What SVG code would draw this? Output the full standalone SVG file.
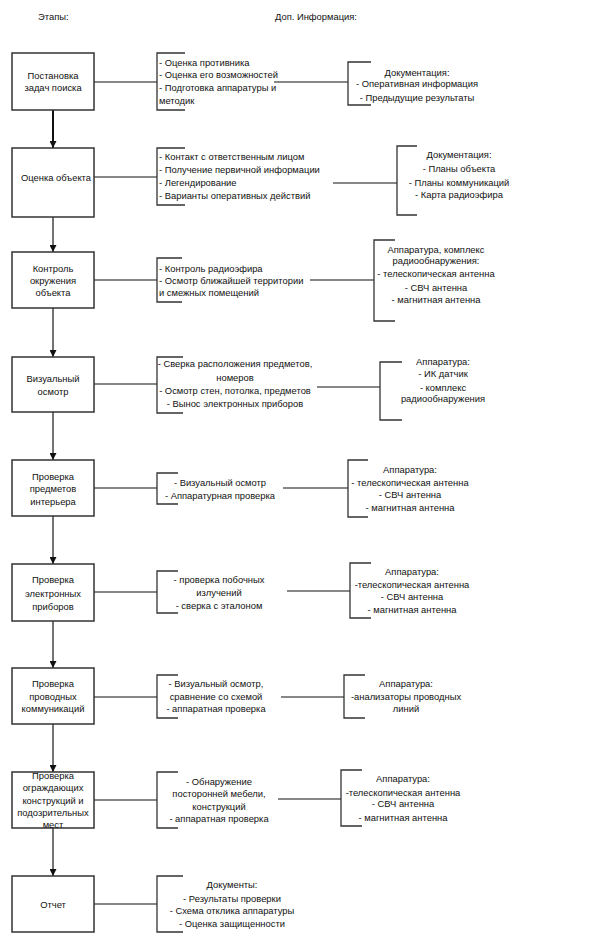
<svg xmlns="http://www.w3.org/2000/svg" width="599" height="950" viewBox="0 0 599 950">
<defs>
<style>
text{font-family:"Liberation Sans",Arial,sans-serif;font-size:9.4px;fill:#111}
.c{text-anchor:middle}
.box{fill:#fff;stroke:#333;stroke-width:1.5}
.br{fill:none;stroke:#333;stroke-width:1.3}
.ln{fill:none;stroke:#111;stroke-width:1.2}
.ar{fill:none;stroke:#444;stroke-width:1.5}
</style>
<marker id="ah" viewBox="0 0 10 10" refX="10" refY="5" markerWidth="7" markerHeight="7" markerUnits="userSpaceOnUse" orient="auto"><path d="M0,0 L10,5 L0,10 z" fill="#111"/></marker>
</defs>
<rect width="599" height="950" fill="#fff"/>
<text x="38" y="19.5">Этапы:</text>
<text x="275" y="19.5">Доп. Информация:</text>

<g id="connectors">
<line class="ar" x1="53" y1="110" x2="53" y2="148" marker-end="url(#ah)" style="stroke:#111;stroke-width:2"/>
<line class="ar" x1="53" y1="217" x2="53" y2="252" marker-end="url(#ah)"/>
<line class="ar" x1="53" y1="308" x2="53" y2="357" marker-end="url(#ah)"/>
<line class="ar" x1="53" y1="412" x2="53" y2="460" marker-end="url(#ah)"/>
<line class="ar" x1="53" y1="516" x2="53" y2="564" marker-end="url(#ah)"/>
<line class="ar" x1="53" y1="621" x2="53" y2="668" marker-end="url(#ah)"/>
<line class="ar" x1="53" y1="724" x2="53" y2="772" marker-end="url(#ah)"/>
<line class="ar" x1="53" y1="828" x2="53" y2="876" marker-end="url(#ah)"/>
<line class="ln" x1="94" y1="82" x2="157" y2="82"/>
<line class="ln" x1="274" y1="82" x2="348" y2="82"/>
<line class="ln" x1="94" y1="177" x2="157" y2="177"/>
<line class="ln" x1="333" y1="183" x2="397" y2="183"/>
<line class="ln" x1="94" y1="280" x2="157" y2="280"/>
<line class="ln" x1="310" y1="280" x2="374" y2="280"/>
<line class="ln" x1="94" y1="384" x2="157" y2="384"/>
<line class="ln" x1="317" y1="387" x2="380" y2="387"/>
<line class="ln" x1="94" y1="488" x2="157" y2="488"/>
<line class="ln" x1="283" y1="488" x2="348" y2="488"/>
<line class="ln" x1="94" y1="592" x2="157" y2="592"/>
<line class="ln" x1="287" y1="591" x2="350" y2="591"/>
<line class="ln" x1="94" y1="697" x2="157" y2="697"/>
<line class="ln" x1="281" y1="697" x2="344" y2="697"/>
<line class="ln" x1="94" y1="800" x2="157" y2="800"/>
<line class="ln" x1="278" y1="799" x2="341" y2="799"/>
<line class="ln" x1="94" y1="904" x2="157" y2="904"/>
</g>

<g id="stage1"><rect class="box" x="12" y="53" width="82" height="57"/>
<text class="c" x="53" y="78.5">Постановка</text><text class="c" x="53" y="90.5">задач поиска</text></g>
<g id="stage2"><rect class="box" x="12" y="148" width="82" height="69"/>
<text class="c" x="56" y="180.5">Оценка объекта</text></g>
<g id="stage3"><rect class="box" x="12" y="252" width="82" height="56"/>
<text class="c" x="53" y="271.5">Контроль</text><text class="c" x="53" y="283.5">окружения</text><text class="c" x="53" y="295.5">объекта</text></g>
<g id="stage4"><rect class="box" x="12" y="357" width="82" height="55"/>
<text class="c" x="53" y="381.5">Визуальный</text><text class="c" x="53" y="394.5">осмотр</text></g>
<g id="stage5"><rect class="box" x="12" y="460" width="82" height="56"/>
<text class="c" x="53" y="479.5">Проверка</text><text class="c" x="53" y="491.5">предметов</text><text class="c" x="53" y="504.5">интерьера</text></g>
<g id="stage6"><rect class="box" x="12" y="564" width="82" height="57"/>
<text class="c" x="53" y="582.5">Проверка</text><text class="c" x="53" y="596.5">электронных</text><text class="c" x="53" y="609.5">приборов</text></g>
<g id="stage7"><rect class="box" x="12" y="668" width="82" height="56"/>
<text class="c" x="53" y="686.5">Проверка</text><text class="c" x="53" y="699.5">проводных</text><text class="c" x="53" y="711.5">коммуникаций</text></g>
<g id="stage8"><rect class="box" x="12" y="772" width="82" height="56"/>
<text class="c" x="53" y="778.5">Проверка</text><text class="c" x="53" y="790.5">ограждающих</text><text class="c" x="53" y="803.5">конструкций и</text><text class="c" x="53" y="815.5">подозрительных</text><text class="c" x="53" y="827.5">мест</text></g>
<g id="stage9"><rect class="box" x="12" y="876" width="82" height="56"/>
<text class="c" x="53" y="907.5">Отчет</text></g>

<g id="info1"><path class="br" d="M185,53 H157 V110 H185"/>
<text x="159" y="65.5">- Оценка противника</text><text x="159" y="77.5">- Оценка его возможностей</text><text x="159" y="90.5">- Подготовка аппаратуры и</text><text x="159" y="103.5">методик</text></g>
<g id="doc1"><path class="br" d="M371,62 H348 V105 H371"/>
<text class="c" x="417" y="75.5">Документация:</text><text class="c" x="417" y="87">- Оперативная информация</text><text class="c" x="417" y="100.5">- Предыдущие результаты</text></g>

<g id="info2"><path class="br" d="M185,148 H157 V205 H185"/>
<text x="159" y="159.5">- Контакт с ответственным лицом</text><text x="159" y="172.5">- Получение первичной информации</text><text x="159" y="185.5">- Легендирование</text><text x="159" y="198.5">- Варианты оперативных действий</text></g>
<g id="doc2"><path class="br" d="M417,146 H397 V215 H417"/>
<text class="c" x="459" y="157.5">Документация:</text><text class="c" x="459" y="171.5">- Планы объекта</text><text class="c" x="459" y="185.5">- Планы коммуникаций</text><text class="c" x="459" y="197.5">- Карта радиоэфира</text></g>

<g id="info3"><path class="br" d="M182,258 H157 V302 H182"/>
<text x="159" y="271.5">- Контроль радиоэфира</text><text x="159" y="283.5">- Осмотр ближайшей территории</text><text x="159" y="295.5">и смежных помещений</text></g>
<g id="doc3"><path class="br" d="M395,240 H374 V321 H395"/>
<text class="c" x="436" y="252.5">Аппаратура, комплекс</text><text class="c" x="436" y="263.5">радиообнаружения:</text><text class="c" x="436" y="276.5">- телескопическая антенна</text><text class="c" x="436" y="290.5">- СВЧ антенна</text><text class="c" x="436" y="302.5">- магнитная антенна</text></g>

<g id="info4"><path class="br" d="M183,357 H157 V413 H183"/>
<text class="c" x="235" y="366.5">- Сверка расположения предметов,</text><text class="c" x="235" y="380.5">номеров</text><text class="c" x="235" y="393.5">- Осмотр стен, потолка, предметов</text><text class="c" x="235" y="406.5">- Вынос электронных приборов</text></g>
<g id="doc4"><path class="br" d="M402,362 H380 V420 H402"/>
<text class="c" x="443" y="364.5">Аппаратура:</text><text class="c" x="443" y="376.5">- ИК датчик</text><text class="c" x="443" y="390.5">- комплекс</text><text class="c" x="443" y="401.5">радиообнаружения</text></g>

<g id="info5"><path class="br" d="M178,473 H157 V504 H178"/>
<text class="c" x="220" y="485.5">- Визуальный осмотр</text><text class="c" x="220" y="498.5">- Аппаратурная проверка</text></g>
<g id="doc5"><path class="br" d="M368,460 H348 V517 H368"/>
<text class="c" x="410" y="472.5">Аппаратура:</text><text class="c" x="410" y="485.5">- телескопическая антенна</text><text class="c" x="410" y="497.5">- СВЧ антенна</text><text class="c" x="410" y="510.5">- магнитная антенна</text></g>

<g id="info6"><path class="br" d="M178,571 H157 V613 H178"/>
<text class="c" x="219" y="582.5">- проверка побочных</text><text class="c" x="219" y="595.5">излучений</text><text class="c" x="219" y="608.5">- сверка с эталоном</text></g>
<g id="doc6"><path class="br" d="M371,563 H350 V618 H371"/>
<text class="c" x="412" y="574.5">Аппаратура:</text><text class="c" x="412" y="587.5">-телескопическая антенна</text><text class="c" x="412" y="599.5">- СВЧ антенна</text><text class="c" x="412" y="612.5">- магнитная антенна</text></g>

<g id="info7"><path class="br" d="M178,675 H157 V718 H178"/>
<text class="c" x="216" y="686.5">- Визуальный осмотр,</text><text class="c" x="216" y="699.5">сравнение со схемой</text><text class="c" x="216" y="711.5">- аппаратная проверка</text></g>
<g id="doc7"><path class="br" d="M365,675 H344 V718 H365"/>
<text class="c" x="406" y="686.5">Аппаратура:</text><text class="c" x="406" y="699.5">-анализаторы проводных</text><text class="c" x="406" y="711.5">линий</text></g>

<g id="info8"><path class="br" d="M178,772 H157 V828 H178"/>
<text class="c" x="219" y="784.5">- Обнаружение</text><text class="c" x="219" y="796.5">посторонней мебели,</text><text class="c" x="219" y="809.5">конструкций</text><text class="c" x="219" y="821.5">- аппаратная проверка</text></g>
<g id="doc8"><path class="br" d="M362,770 H341 V826 H362"/>
<text class="c" x="403" y="781.5">Аппаратура:</text><text class="c" x="403" y="795.5">-телескопическая антенна</text><text class="c" x="403" y="806.5">- СВЧ антенна</text><text class="c" x="403" y="820.5">- магнитная антенна</text></g>

<g id="info9"><path class="br" d="M183,876 H157 V932 H183"/>
<text class="c" x="232" y="887.5">Документы:</text><text class="c" x="232" y="901.5">- Результаты проверки</text><text class="c" x="232" y="913.5">- Схема отклика аппаратуры</text><text class="c" x="232" y="926.5">- Оценка защищенности</text></g>
</svg>
